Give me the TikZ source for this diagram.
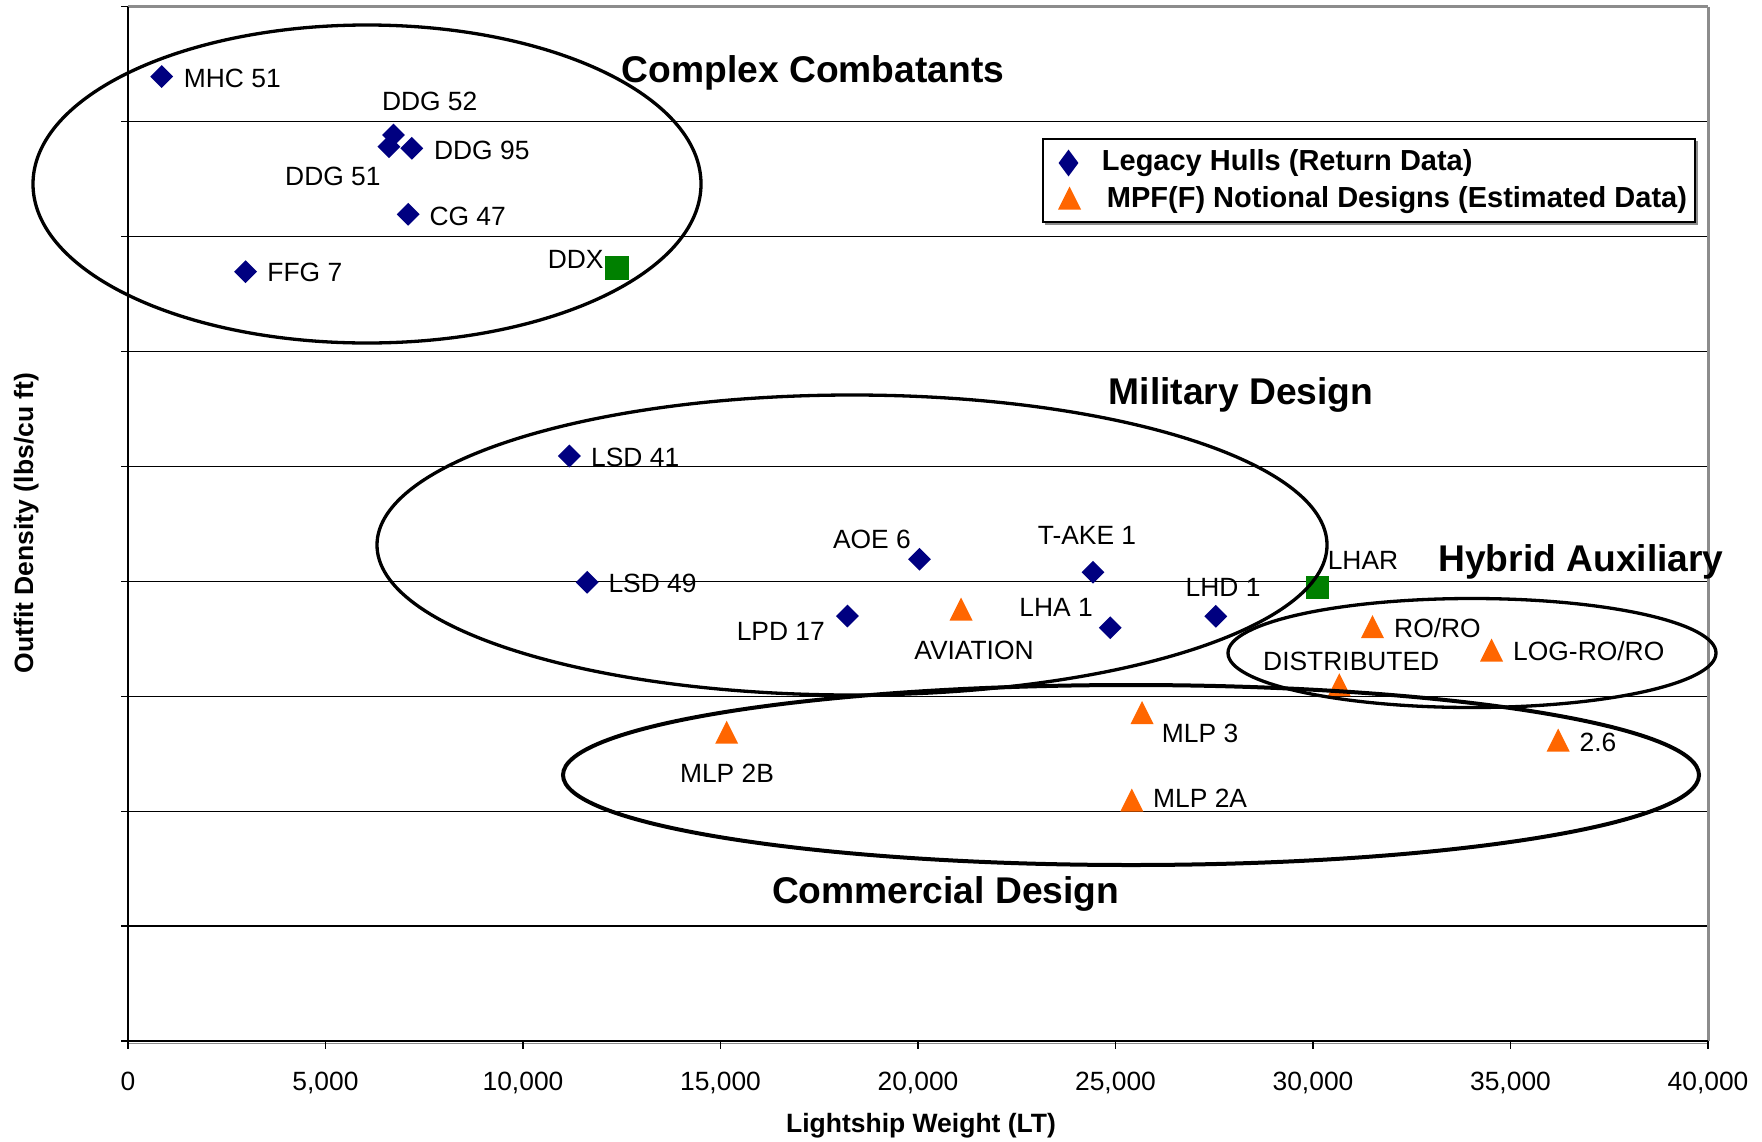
\documentclass[tikz,border=0pt]{standalone}
\usepackage{fontspec}
\setmainfont{Liberation Sans}
\usetikzlibrary{shapes.geometric}
\definecolor{navyM}{RGB}{0,0,128}
\definecolor{orangeM}{RGB}{255,102,0}
\definecolor{greenM}{RGB}{0,128,0}
\definecolor{greyM}{RGB}{140,140,140}
\begin{document}
\begin{tikzpicture}[x=1pt,y=-1pt,
  lab/.style={inner sep=0pt,font=\fontsize{26.4}{30}\selectfont},
  ttl/.style={inner sep=0pt,font=\fontsize{37.2}{42}\selectfont\bfseries},
  axl/.style={inner sep=0pt,font=\fontsize{26.5}{30}\selectfont\bfseries},
  leg/.style={inner sep=0pt,font=\fontsize{29}{33}\selectfont\bfseries},
  dia/.style={diamond,fill=navyM,inner sep=0pt,minimum width=23pt,minimum height=23pt},
  sqr/.style={rectangle,fill=greenM,inner sep=0pt,minimum size=23pt},
  grp/.style={ellipse,draw=black,line width=3.3pt,inner sep=0pt},
  gridline/.style={line width=1.4pt,black},
  tri/.pic={\fill[orangeM] (0,-11.5)--(11.5,11.5)--(-11.5,11.5)--cycle;}
]
\fill[white] (0,0) rectangle (1762,1141);
\useasboundingbox (0,0) rectangle (1762,1141);

% grid and axes
\foreach \yy in {121.6,236.6,351.5,466.4,581.3,696.3,811.2,926.1}{
  \draw[gridline] (121,\yy) -- (1708,\yy);
}
\draw[gridline] (121,6.7) -- (128,6.7);
\draw[greyM,line width=3pt] (128,6.7) -- (1708,6.7);
\draw[greyM,line width=3pt] (1708,6.7) -- (1708,1041);
\draw[black,line width=2pt] (128,6.7) -- (128,1049);
\draw[greyM,line width=1.5pt] (128,1043.5) -- (1708,1043.5);
\draw[black,line width=2pt] (121,1041) -- (1708,1041);
\foreach \i in {0,...,8}{
  \draw[black,line width=1.4pt] ({128+\i*197.5},1041) -- ({128+\i*197.5},1049);
}

% x tick labels
\node[lab,anchor=base] (xt0) at (128,1090) {0};
\node[lab,anchor=base] (xt1) at (325.5,1090) {5,000};
\node[lab,anchor=base] (xt2) at (523,1090) {10,000};
\node[lab,anchor=base] (xt3) at (720.5,1090) {15,000};
\node[lab,anchor=base] (xt4) at (918,1090) {20,000};
\node[lab,anchor=base] (xt5) at (1115.5,1090) {25,000};
\node[lab,anchor=base] (xt6) at (1313,1090) {30,000};
\node[lab,anchor=base] (xt7) at (1510.5,1090) {35,000};
\node[lab,anchor=base] (xt8) at (1708,1090) {40,000};

% axis titles
\node[axl,anchor=base] (xlab) at (921,1132) {Lightship Weight (LT)};
\node[axl,anchor=base,rotate=90] (ylab) at (33,523) {Outfit Density (lbs/cu ft)};

% legacy hulls (diamonds)
\node[dia] (mMHC) at (161.7,76.6) {};
\node[dia] (mDDG52) at (393.5,135) {};
\node[dia] (mDDG51) at (388.9,146.7) {};
\node[dia] (mDDG95) at (411.8,148.3) {};
\node[dia] (mCG) at (408.2,214.3) {};
\node[dia] (mFFG) at (245.6,271.7) {};
\node[dia] (mLSD41) at (569.4,456) {};
\node[dia] (mLSD49) at (587.2,582.3) {};
\node[dia] (mAOE) at (919.5,559.3) {};
\node[dia] (mTAKE) at (1093,572.3) {};
\node[dia] (mLPD) at (847.4,616) {};
\node[dia] (mLHA) at (1110.2,627.7) {};
\node[dia] (mLHD) at (1215.8,616.3) {};

% green squares
\node[sqr,minimum size=24pt] (mDDX) at (617,267.5) {};
\node[sqr] (mLHAR) at (1317.5,587.3) {};

% notional designs (triangles)
\pic (tAVI) at (961,609) {tri};
\pic (tRORO) at (1372.5,626.7) {tri};
\pic (tLOG) at (1491.5,650) {tri};
\pic (tDIST) at (1339.3,684.7) {tri};
\pic (t26) at (1558.2,740) {tri};
\pic (tMLP3) at (1142,712.5) {tri};
\pic (tMLP2B) at (726.7,732.2) {tri};
\pic (tMLP2A) at (1131.8,800) {tri};

% group ellipses
\node[grp,minimum width=668pt,minimum height=318pt] (eCC) at (367,184) {};
\node[grp,minimum width=950pt,minimum height=300pt] (eMD) at (852,545) {};
\node[grp,minimum width=488pt,minimum height=109pt] (eHA) at (1472,653) {};
\node[grp,line width=4pt,minimum width=1136pt,minimum height=180pt] (eCD) at (1131,775) {};

% data labels
\node[lab,anchor=base west] (lMHC) at (183.7,87) {MHC 51};
\node[lab,anchor=base] (lDDG52) at (429.7,110) {DDG 52};
\node[lab,anchor=base] (lDDG51) at (332.9,185) {DDG 51};
\node[lab,anchor=base west] (lDDG95) at (433.9,159) {DDG 95};
\node[lab,anchor=base west] (lCG) at (429.3,225) {CG 47};
\node[lab,anchor=base west] (lFFG) at (267.2,281.7) {FFG 7};
\node[lab,anchor=base east] (lDDX) at (603.8,268) {DDX};
\node[lab,anchor=base west] (lLSD41) at (591,466) {LSD 41};
\node[lab,anchor=base west] (lLSD49) at (608.3,592) {LSD 49};
\node[lab,anchor=base east] (lAOE) at (911,548) {AOE 6};
\node[lab,anchor=base] (lTAKE) at (1087,544) {T-AKE 1};
\node[lab,anchor=base east] (lLPD) at (825,640.7) {LPD 17};
\node[lab,anchor=base] (lAVI) at (974,659) {AVIATION};
\node[lab,anchor=base east] (lLHA) at (1093,616.7) {LHA 1};
\node[lab,anchor=base west] (lLHD) at (1185.5,596) {LHD 1};
\node[lab,anchor=base west] (lLHAR) at (1327.6,569.3) {LHAR};
\node[lab,anchor=base west] (lRORO) at (1394,637.3) {RO/RO};
\node[lab,anchor=base west] (lLOG) at (1513,660) {LOG-RO/RO};
\node[lab,anchor=base west] (lDIST) at (1263,670.7) {DISTRIBUTED};
\node[lab,anchor=base west] (l26) at (1579.4,751.7) {2.6};
\node[lab,anchor=base west] (lMLP3) at (1161.7,742.7) {MLP 3};
\node[lab,anchor=base] (lMLP2B) at (727,782.7) {MLP 2B};
\node[lab,anchor=base west] (lMLP2A) at (1153,807.3) {MLP 2A};

% group titles
\node[ttl,anchor=base] (gCC) at (813,82) {Complex Combatants};
\node[ttl,anchor=base] (gMD) at (1241,404) {Military Design};
\node[ttl,anchor=base] (gHA) at (1581,571.7) {Hybrid Auxiliary};
\node[ttl,anchor=base] (gCD) at (945.7,903) {Commercial Design};

% legend
\draw[greyM,line width=1.5pt] (1045,224) -- (1697,224) -- (1697,141);
\draw[black,line width=2pt,fill=white] (1042.7,138.5) rectangle (1695,222.2);
\node[dia,minimum width=20pt,minimum height=27pt] (legD) at (1068.5,163) {};
\pic (legT) at (1069.5,198) {tri};
\node[leg,anchor=base west] (legA) at (1101.7,170.7) {Legacy Hulls (Return Data)};
\node[leg,anchor=base west] (legB) at (1106.7,207.3) {MPF(F) Notional Designs (Estimated Data)};
\end{tikzpicture}
\end{document}
